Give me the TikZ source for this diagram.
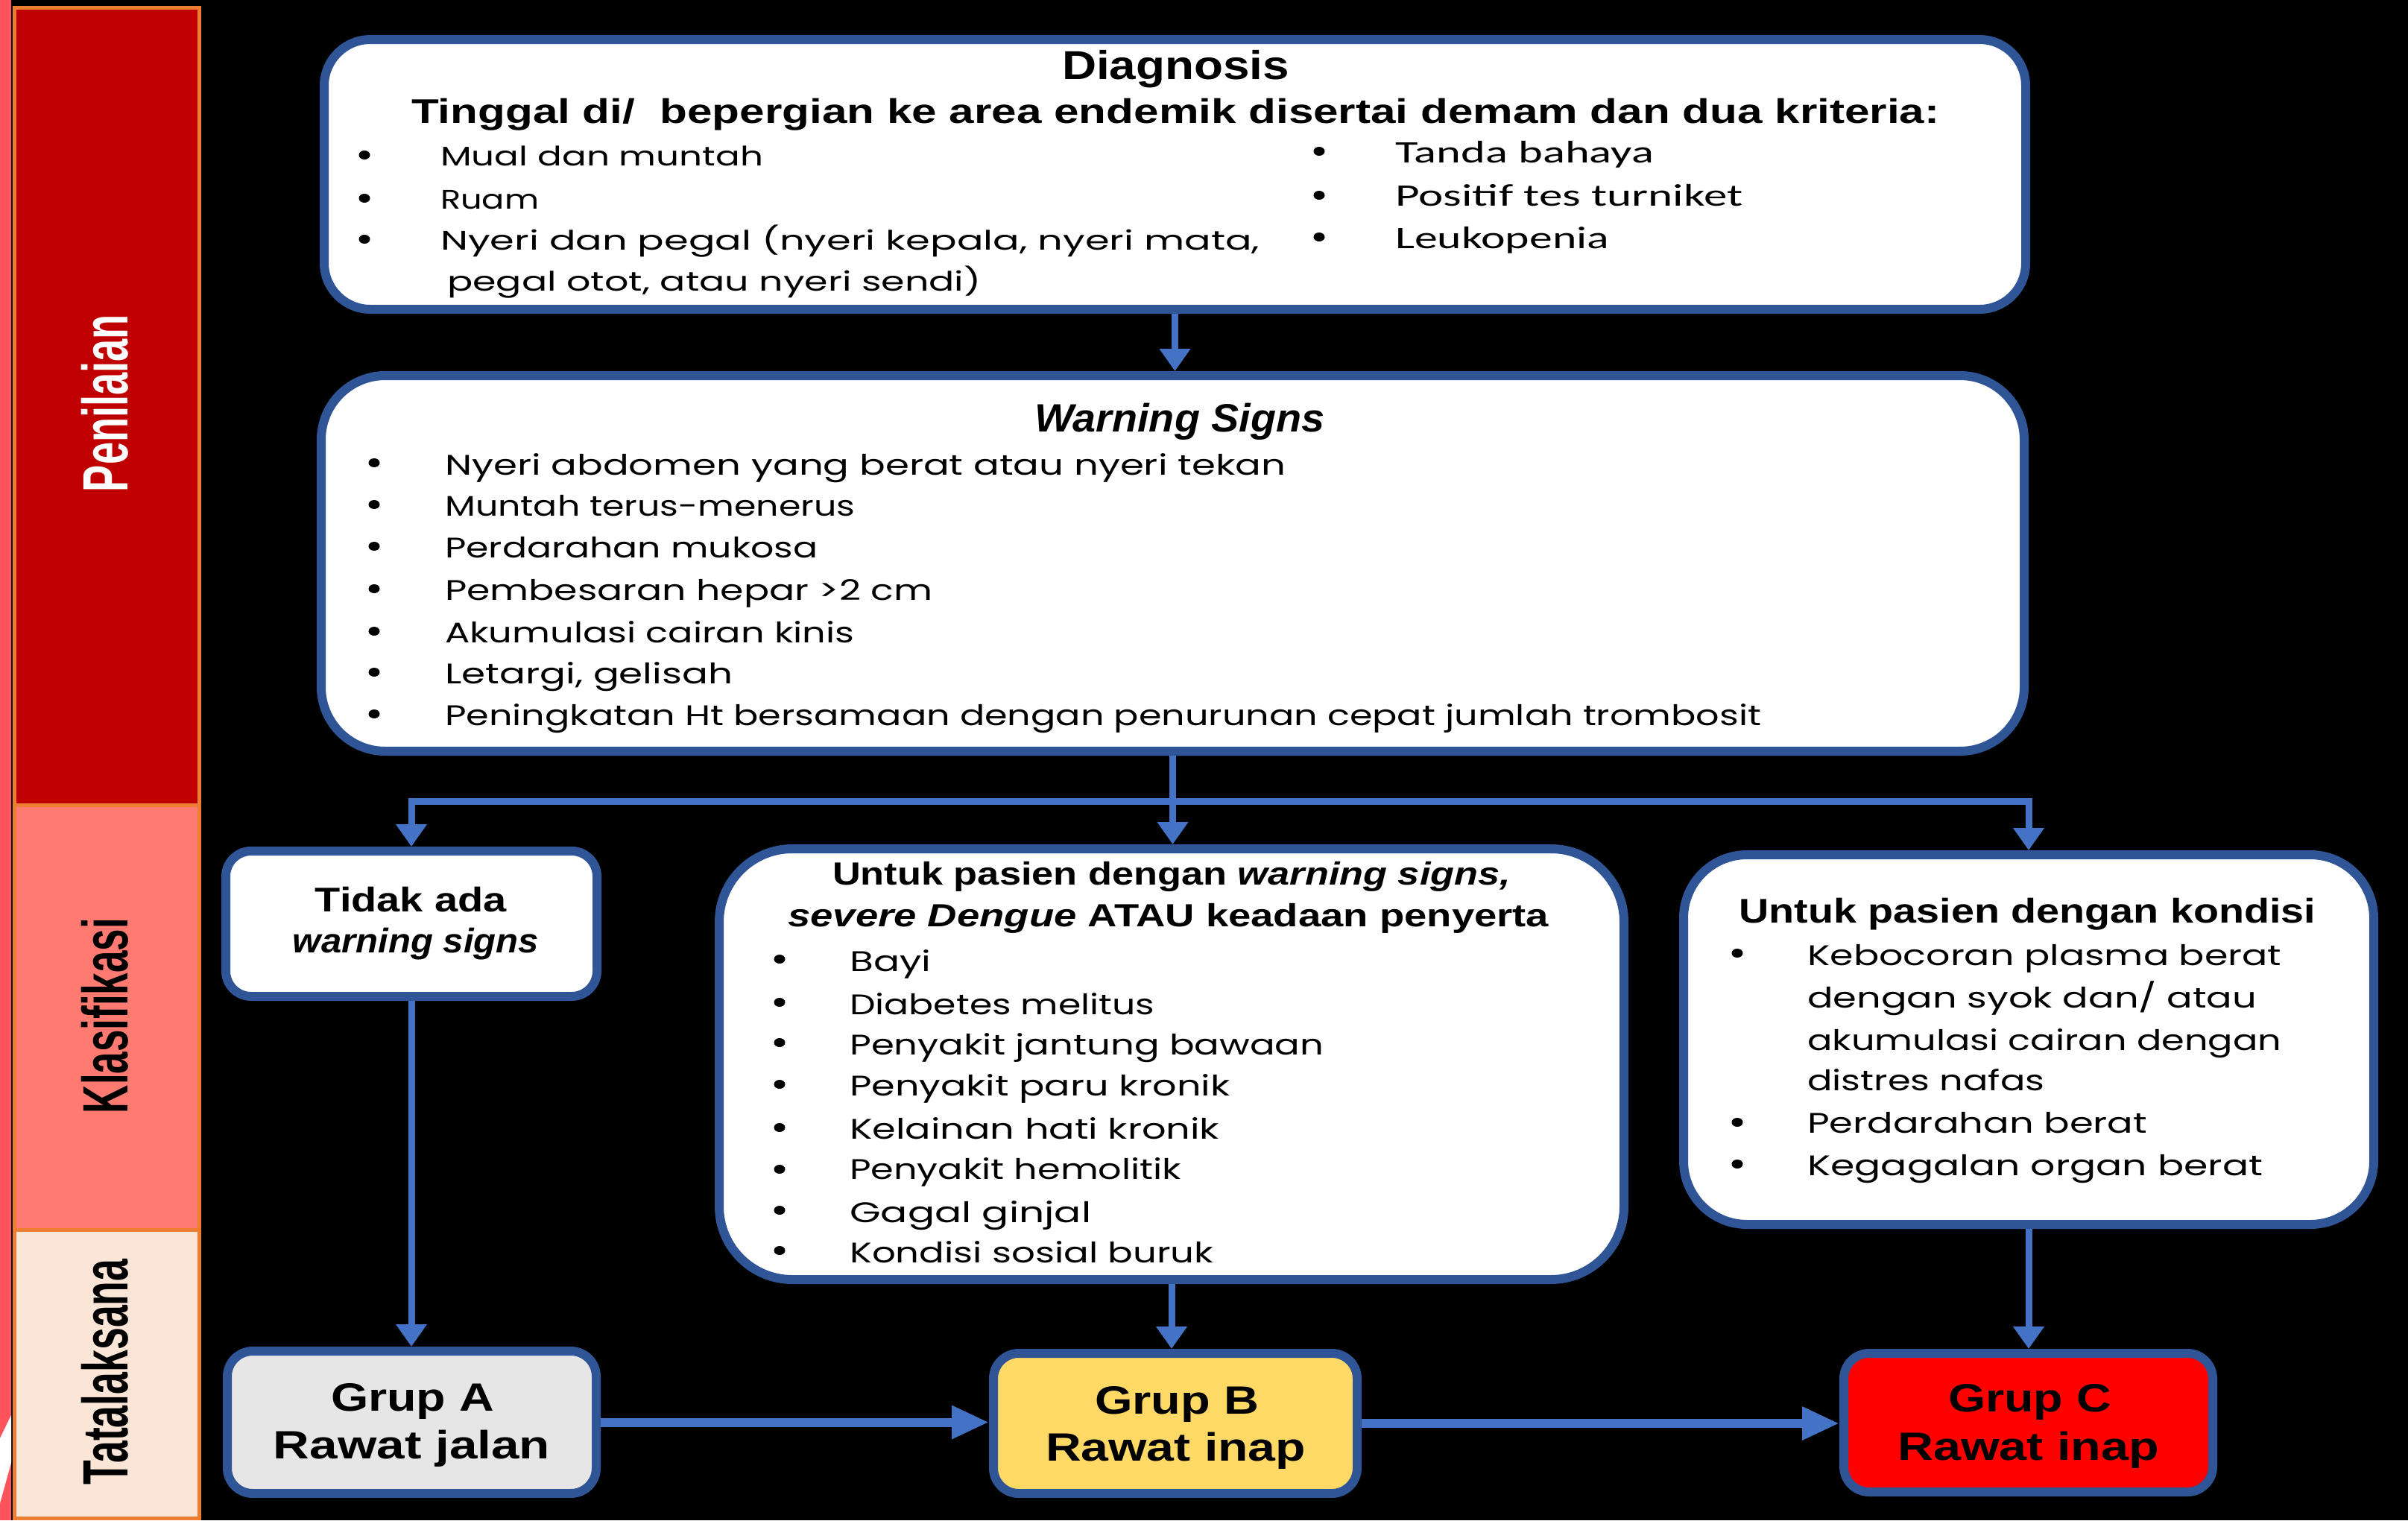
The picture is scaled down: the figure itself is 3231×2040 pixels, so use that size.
\documentclass[tikz,border=0pt]{standalone}
\usepackage{fontspec}
\usepackage{graphicx}
\setmainfont{Liberation Sans}
\newfontfamily\geofont{Poppins}
\newfontfamily\califont{Carlito}
\usetikzlibrary{arrows.meta,calc}

\definecolor{boxline}{HTML}{2F5597}
\definecolor{arrowblue}{HTML}{4472C4}
\definecolor{stageA}{HTML}{C00000}
\definecolor{stageB}{HTML}{FF7B72}
\definecolor{stageC}{HTML}{FBE5D6}
\definecolor{stageedge}{HTML}{ED7D31}
\definecolor{coralstrip}{HTML}{FF545C}
\definecolor{grupAfill}{HTML}{E7E6E6}
\definecolor{grupBfill}{HTML}{FFD966}
\definecolor{grupCfill}{HTML}{FF0000}

% stretch a line of text to a given width (in pt), keeping its height
\newcommand\fitw[2]{\resizebox{#1pt}{\height}{#2}}
% list bullet
\newcommand\bul[2]{\fill[black] (#1,#2) ellipse [x radius=7.5pt, y radius=6pt];}

\tikzset{
  panel/.style={rectangle, draw=boxline, line width=12pt, fill=white, inner sep=0pt},
  wire/.style={draw=arrowblue, line width=9pt},
  arr/.style={wire, -{Triangle[width=40pt,length=30pt]}},
  bigarr/.style={draw=arrowblue, line width=12pt, -{Triangle[width=42pt,length=50pt]}},
  title/.style={inner sep=0pt, font=\bfseries},
  geoitem/.style={inner sep=0pt, anchor=base west, font=\geofont\fontsize{38}{40}\selectfont},
  dgitem/.style={inner sep=0pt, anchor=base west, font=\geofont\fontsize{36}{38}\selectfont},
  calitem/.style={inner sep=0pt, anchor=base west, font=\califont\fontsize{42}{44}\selectfont},
  grupfont/.style={inner sep=0pt, anchor=base, font=\bfseries\fontsize{53}{56}\selectfont},
  stagelabel/.style={rotate=90, inner sep=0pt, font=\bfseries\fontsize{86}{90}\selectfont}
}

\begin{document}
\begin{tikzpicture}[x=1pt, y=-1pt]
  \useasboundingbox (0,0) rectangle (3231,2040);
  \fill[black] (0,0) rectangle (3231,2040);

  % left edge strip
  \fill[coralstrip] (0,0) rectangle (15,2040);
  \fill[white] (0,1930) -- (15,1899) -- (15,1963) -- (0,2017) -- cycle;

  % stage bands
  \draw[stageedge, line width=5pt, fill=stageA] (19.5,10) rectangle (267.5,1080);
  \draw[stageedge, line width=5pt, fill=stageB] (19.5,1080) rectangle (267.5,1650);
  \draw[stageedge, line width=5pt, fill=stageC] (19.5,1650) rectangle (267.5,2037);
  \node[stagelabel, text=white] (lblPen) at (141,541) {\fitw{238}{Penilaian}};
  \node[stagelabel, text=black] (lblKla) at (141,1363) {\fitw{262}{Klasifikasi}};
  \node[stagelabel, text=black] (lblTat) at (141,1841) {\fitw{303}{Tatalaksana}};

  % panels
  \node[panel, rounded corners=62pt, minimum width=2283pt, minimum height=362pt] (diag) at (1576.5,234) {};
  \node[panel, rounded corners=86pt, minimum width=2285pt, minimum height=504pt] (warn) at (1573.5,756) {};
  \node[panel, rounded corners=34pt, minimum width=498pt, minimum height=195pt] (tidak) at (552,1239.5) {};
  \node[panel, rounded corners=98pt, minimum width=1214pt, minimum height=578pt] (mid) at (1572,1428) {};
  \node[panel, rounded corners=85pt, minimum width=926pt, minimum height=496pt] (right) at (2722,1395) {};
  \node[panel, fill=grupAfill, rounded corners=34pt, minimum width=495pt, minimum height=191pt] (grupA) at (552.5,1908.5) {};
  \node[panel, fill=grupBfill, rounded corners=34pt, minimum width=488pt, minimum height=188pt] (grupB) at (1577,1910) {};
  \node[panel, fill=grupCfill, rounded corners=34pt, minimum width=495pt, minimum height=186pt] (grupC) at (2721.5,1909) {};

  % connectors
  \coordinate (hub) at (warn.south |- 0,1075);
  \draw[arr] (diag.south) -- (diag.south |- warn.north);
  \draw[wire] (warn.south) -- (hub);
  \draw[arr] (hub) -| (tidak.north);
  \draw[arr] (hub) -- (hub |- mid.north);
  \draw[arr] (hub) -| (right.north);
  \draw[arr] (tidak.south) -- (tidak.south |- grupA.north);
  \draw[arr] (mid.south) -- (mid.south |- grupB.north);
  \draw[arr] (right.south) -- (right.south |- grupC.north);
  \draw[bigarr] (grupA.east) -- (grupA.east -| grupB.west);
  \draw[bigarr] (grupB.east) -- (grupB.east -| grupC.west);

  % diagnosis panel text
  \node[title, anchor=base] (dgT) at (1577.5,106) {\fontsize{54}{58}\selectfont\fitw{305}{Diagnosis}};
  \node[title, anchor=base west] (dgS) at (552,165) {\fontsize{46}{50}\selectfont\fitw{2050}{Tinggal di/~ bepergian ke area endemik disertai demam dan dua kriteria:}};
  \bul{489}{208} \bul{489}{266} \bul{489}{321}
  \node[dgitem] (dl1) at (591,222) {\fitw{433}{Mual dan muntah}};
  \node[dgitem] (dl2) at (591,280) {\fitw{132}{Ruam}};
  \node[dgitem] (dl3) at (591,335) {\fitw{1099}{Nyeri dan pegal (nyeri kepala, nyeri mata,}};
  \node[dgitem] (dl4) at (600,390) {\fitw{716}{pegal otot, atau nyeri sendi)}};
  \bul{1770}{203} \bul{1770}{262} \bul{1770}{318}
  \node[calitem] (dr1) at (1872,218) {\fitw{347}{Tanda bahaya}};
  \node[calitem] (dr2) at (1872,276) {\fitw{466}{Positif tes turniket}};
  \node[calitem] (dr3) at (1872,333) {\fitw{287}{Leukopenia}};

  % warning signs panel text
  \node[title, anchor=base west] (wsT) at (1388,579) {\fontsize{53}{56}\selectfont\itshape\fitw{389}{Warning Signs}};
  \bul{502}{621} \bul{502}{677} \bul{502}{733} \bul{502}{790} \bul{502}{847} \bul{502}{902} \bul{502}{958}
  \node[geoitem] (w1) at (597,637) {\fitw{1128}{Nyeri abdomen yang berat atau nyeri tekan}};
  \node[geoitem] (w2) at (597,692) {\fitw{550}{Muntah terus-menerus}};
  \node[geoitem] (w3) at (597,748) {\fitw{500}{Perdarahan mukosa}};
  \node[geoitem] (w4) at (597,805) {\fitw{654}{Pembesaran hepar >2 cm}};
  \node[geoitem] (w5) at (597,862) {\fitw{549}{Akumulasi cairan kinis}};
  \node[geoitem] (w6) at (597,917) {\fitw{386}{Letargi, gelisah}};
  \node[geoitem] (w7) at (597,973) {\fitw{1766}{Peningkatan Ht bersamaan dengan penurunan cepat jumlah trombosit}};

  % classification panels text
  \node[title, anchor=base] (tdA) at (551.5,1223) {\fontsize{46}{50}\selectfont\fitw{257}{Tidak ada}};
  \node[title, anchor=base] (tdB) at (558,1278) {\fontsize{46}{50}\selectfont\itshape\fitw{330}{warning signs}};

  \node[title, anchor=base west] (mdA) at (1117,1187) {\fontsize{43}{46}\selectfont\fitw{910}{Untuk pasien dengan \textit{warning signs,}}};
  \node[title, anchor=base west] (mdB) at (1057,1243) {\fontsize{43}{46}\selectfont\fitw{1021}{\textit{severe Dengue} ATAU keadaan penyerta}};
  \bul{1046}{1287} \bul{1046}{1345} \bul{1046}{1399} \bul{1046}{1455}
  \bul{1046}{1513} \bul{1046}{1569} \bul{1046}{1624} \bul{1046}{1678}
  \node[geoitem] (m1) at (1140,1303) {\fitw{109}{Bayi}};
  \node[geoitem] (m2) at (1140,1361) {\fitw{409}{Diabetes melitus}};
  \node[geoitem] (m3) at (1140,1415) {\fitw{636}{Penyakit jantung bawaan}};
  \node[geoitem] (m4) at (1140,1470) {\fitw{510}{Penyakit paru kronik}};
  \node[geoitem] (m5) at (1140,1528) {\fitw{496}{Kelainan hati kronik}};
  \node[geoitem] (m6) at (1140,1582) {\fitw{445}{Penyakit hemolitik}};
  \node[geoitem] (m7) at (1140,1640) {\fitw{324}{Gagal ginjal}};
  \node[geoitem] (m8) at (1140,1694) {\fitw{488}{Kondisi sosial buruk}};

  \node[title, anchor=base west] (rtT) at (2333,1238) {\fontsize{46}{50}\selectfont\fitw{774}{Untuk pasien dengan kondisi}};
  \bul{2331}{1279} \bul{2331}{1506} \bul{2331}{1562}
  \node[geoitem] (r1) at (2425,1295) {\fitw{636}{Kebocoran plasma berat}};
  \node[geoitem] (r2) at (2425,1352) {\fitw{603}{dengan syok dan/ atau}};
  \node[geoitem] (r3) at (2425,1409) {\fitw{636}{akumulasi cairan dengan}};
  \node[geoitem] (r4) at (2425,1463) {\fitw{318}{distres nafas}};
  \node[geoitem] (r5) at (2425,1520) {\fitw{456}{Perdarahan berat}};
  \node[geoitem] (r6) at (2425,1577) {\fitw{611}{Kegagalan organ berat}};

  % management groups text
  \node[grupfont] (gA1) at (553.5,1893) {\fitw{219}{Grup A}};
  \node[grupfont] (gA2) at (552.5,1957) {\fitw{371}{Rawat jalan}};
  \node[grupfont] (gB1) at (1579,1897) {\fitw{220}{Grup B}};
  \node[grupfont] (gB2) at (1577.5,1960) {\fitw{349}{Rawat inap}};
  \node[grupfont] (gC1) at (2723.5,1894) {\fitw{219}{Grup C}};
  \node[grupfont] (gC2) at (2721.5,1959) {\fitw{351}{Rawat inap}};
\end{tikzpicture}
\end{document}
